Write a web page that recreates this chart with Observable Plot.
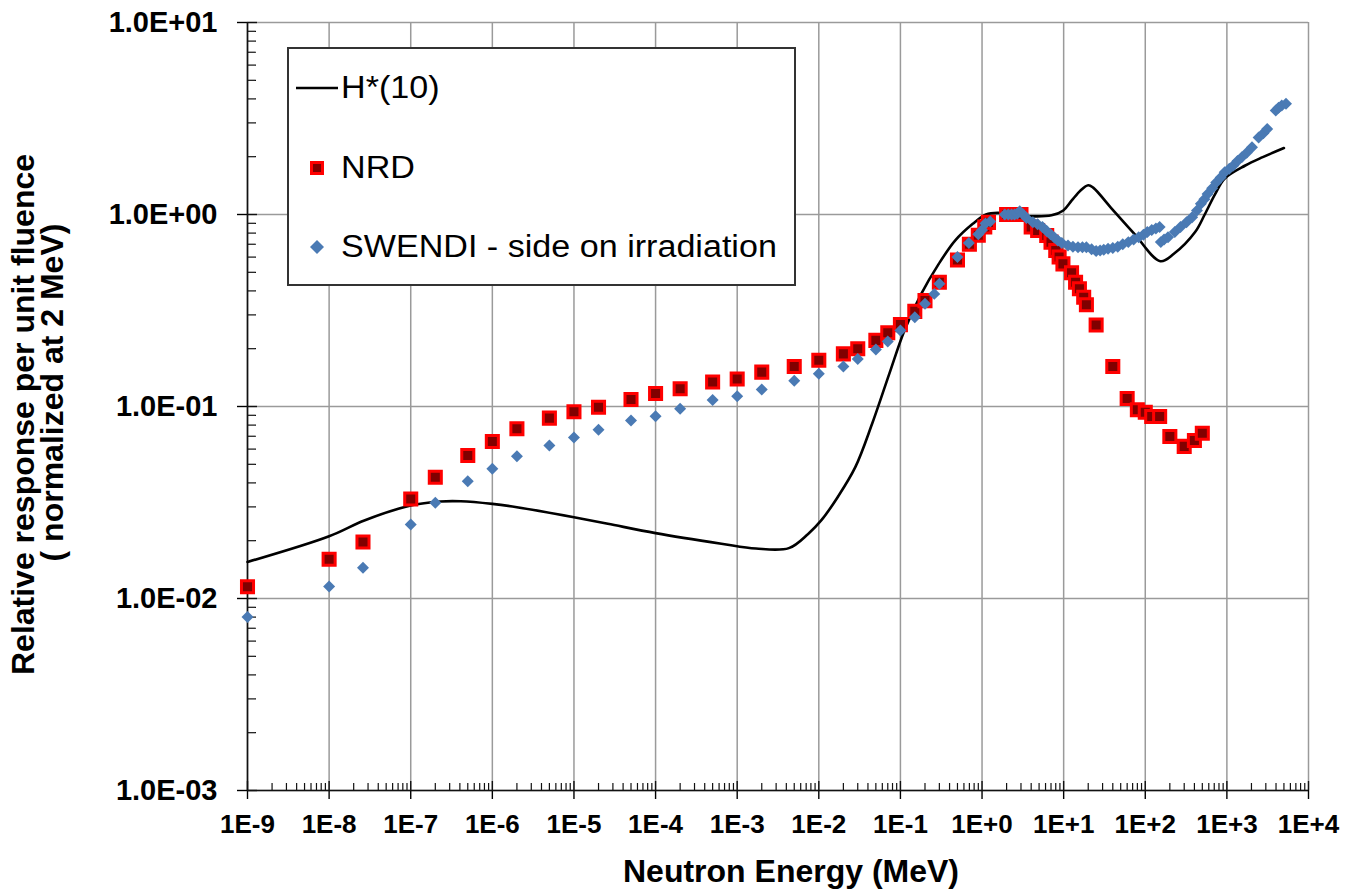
<!DOCTYPE html>
<html>
<head>
<meta charset="utf-8">
<script src="https://cdn.jsdelivr.net/npm/d3@7"></script>
<script src="https://cdn.jsdelivr.net/npm/@observablehq/plot@0.6"></script>
<style>
  html, body { margin: 0; padding: 0; background: white; }
  #wrap { position: relative; width: 1345px; height: 894px; font-family: 'Liberation Sans', Arial, sans-serif; }
  #legend { position: absolute; left: 287px; top: 47px; width: 509px; height: 239px; box-sizing: border-box;
            border: 2px solid #333; background: white; }
  #legend .lbl { position: absolute; left: 52px; font-size: 31px; line-height: 31px; white-space: nowrap;
                 transform: scaleX(1.1); transform-origin: 0 50%; color: #000; }
  #legend svg { position: absolute; left: 0; top: 0; }
</style>
</head>
<body>
<div id="wrap">
  <div id="chart"></div>
  <div id="legend"></div>
</div>
<script>
// ---- Data ----
// H*(10) curve
const hEnergy = [1e-9, 1e-8, 2.7e-8, 1e-7, 2.3e-7, 4.1e-7, 1e-6, 2e-6, 1e-5, 2.6e-5, 1e-4, 6.4e-4, 1.7e-3, 4.3e-3,
  7.4e-3, 1.07e-2, 1.7e-2, 2.8e-2, 4.5e-2, 7.3e-2, 0.112, 0.18, 0.295, 0.47, 0.77, 1.12, 1.56, 3.6, 7.1, 9.9, 12.5, 16, 20, 23,
  39, 74, 153, 224, 408, 535, 720, 940, 1680, 2750, 5000];
const hValue = [0.0155, 0.0211, 0.0255, 0.0305, 0.032, 0.0321, 0.0311, 0.0299, 0.0265, 0.0245, 0.0219, 0.0193, 0.0182, 0.0183,
  0.0217, 0.0255, 0.0337, 0.0483, 0.0813, 0.148, 0.249, 0.386, 0.553, 0.733, 0.894, 1.0, 1.02, 0.98, 0.99, 1.05, 1.18, 1.33, 1.42, 1.38,
  1.07, 0.79, 0.571, 0.624, 0.81, 1.0, 1.28, 1.54, 1.8, 1.99, 2.22];

// NRD
const nrdEnergy = [1e-9, 1e-8, 2.6e-8, 1e-7, 2e-7, 5e-7, 1e-6, 2e-6, 5e-6, 1e-5, 2e-5, 5e-5, 1e-4, 2e-4, 5e-4, 1e-3, 2e-3, 5e-3,
  1e-2, 2e-2, 3e-2, 5e-2, 7e-2, 0.1, 0.15, 0.2, 0.3, 0.5, 0.7, 0.9, 1.08, 1.2, 2, 2.5, 3, 4, 4.8, 6.2, 7, 8, 8.8, 9.8, 12.5, 14,
  15.6, 17.6, 19, 25, 40, 60, 80, 100, 120, 150, 200, 300, 400, 500];
const nrdValue = [0.0115, 0.016, 0.0197, 0.033, 0.0428, 0.0556, 0.0657, 0.0766, 0.087, 0.094, 0.099, 0.1087, 0.117, 0.1236, 0.134,
  0.139, 0.151, 0.1615, 0.174, 0.188, 0.2, 0.221, 0.242, 0.267, 0.313, 0.356, 0.444, 0.58, 0.70, 0.78, 0.86, 0.91, 1.0, 1.0, 1.0,
  0.86, 0.826, 0.778, 0.718, 0.65, 0.6, 0.553, 0.497, 0.444, 0.41, 0.371, 0.339, 0.266, 0.1615, 0.110, 0.0962, 0.0934, 0.0887,
  0.0887, 0.0698, 0.062, 0.0665, 0.0726];

// SWENDI - side on irradiation
const swEnergy = [1e-9, 1e-8, 2.6e-8, 1e-7, 2e-7, 5e-7, 1e-6, 2e-6, 5e-6, 1e-5, 2e-5, 5e-5, 1e-4, 2e-4, 5e-4, 1e-3, 2e-3, 5e-3,
  1e-2, 2e-2, 3e-2, 5e-2, 7e-2, 0.1, 0.15, 0.2, 0.26, 0.3, 0.5, 0.69, 0.9, 1.0, 1.1, 1.26, 1.9, 2.1, 2.3, 2.5, 2.7, 2.9, 3.2, 3.5,
  4.2, 4.8, 5.5, 6.2, 6.9, 7.7, 8.5, 9.5, 11.3, 13, 15, 17, 19, 22, 25, 28, 31, 35, 40, 46, 53, 62, 72, 83, 95, 106, 120, 135,
  150, 155, 170, 190, 230, 270, 320, 375, 430, 480, 530, 580, 660, 740, 840, 940, 1070, 1200, 1350, 1530, 1750, 2030, 2450,
  2800, 3120, 3970, 4300, 4700, 5300];
const swValue = [0.008, 0.01155, 0.01445, 0.0243, 0.0315, 0.0408, 0.0474, 0.0551, 0.0627, 0.069, 0.0757, 0.0845, 0.089, 0.0973,
  0.108, 0.113, 0.1227, 0.136, 0.148, 0.1615, 0.177, 0.198, 0.218, 0.249, 0.292, 0.343, 0.386, 0.436, 0.60, 0.71, 0.79, 0.83,
  0.897, 0.92, 1.0, 1.0, 1.0, 1.0, 1.01, 1.04, 1.0, 0.96, 0.91, 0.89, 0.86, 0.82, 0.79, 0.76, 0.733, 0.71, 0.69, 0.68, 0.676,
  0.676, 0.676, 0.66, 0.645, 0.65, 0.655, 0.663, 0.67, 0.68, 0.70, 0.718, 0.74, 0.762, 0.785, 0.81, 0.83, 0.845, 0.86, 0.718,
  0.74, 0.762, 0.81, 0.86, 0.91, 0.968, 1.05, 1.137, 1.2, 1.28, 1.37, 1.47, 1.56, 1.66, 1.73, 1.8, 1.9, 1.99, 2.1, 2.24, 2.52,
  2.65, 2.79, 3.48, 3.6, 3.7, 3.77];

// Axis ticks and labels
const xTickValues = [1e-9, 1e-8, 1e-7, 1e-6, 1e-5, 1e-4, 1e-3, 1e-2, 1e-1, 1e0, 1e1, 1e2, 1e3, 1e4];
const xTickLabels = ["1E-9", "1E-8", "1E-7", "1E-6", "1E-5", "1E-4", "1E-3", "1E-2", "1E-1", "1E+0", "1E+1", "1E+2", "1E+3", "1E+4"];
const yTickValues = [1e-3, 1e-2, 1e-1, 1e0, 1e1];
const yTickLabels = ["1.0E-03", "1.0E-02", "1.0E-01", "1.0E+00", "1.0E+01"];

const seriesNames = ["H*(10)", "NRD", "SWENDI - side on irradiation"];
const xTitle = "Neutron Energy (MeV)";
const yTitle1 = "Relative response per unit fluence";
const yTitle2 = "( normalized at 2 MeV)";

// ---- Build tables ----
const hData = hEnergy.map((e, i) => ({e, v: hValue[i]}));
const nrdData = nrdEnergy.map((e, i) => ({e, v: nrdValue[i]}));
const swData = swEnergy.map((e, i) => ({e, v: swValue[i]}));

const xMinor = [];
for (let i = 0; i < xTickValues.length - 1; i++) for (let m = 2; m <= 9; m++) xMinor.push(xTickValues[i] * m);
const yMinor = [];
for (let i = 0; i < yTickValues.length - 1; i++) for (let m = 2; m <= 9; m++) yMinor.push(yTickValues[i] * m);

const W = 1345, H = 894, mL = 247, mR = 37, mT = 22, mB = 104;
const plotW = W - mL - mR, plotH = H - mT - mB;
const font = "'Liberation Sans', Arial, sans-serif";

const chart = Plot.plot({
  width: W, height: H,
  marginLeft: mL, marginRight: mR, marginTop: mT, marginBottom: mB,
  style: {fontFamily: font, background: "white", color: "black", overflow: "visible"},
  x: {type: "log", domain: [1e-9, 1e4]},
  y: {type: "log", domain: [1e-3, 10]},
  marks: [
    Plot.gridX(xTickValues, {stroke: "#9a9a9a", strokeOpacity: 1, strokeWidth: 1.5}),
    Plot.gridY(yTickValues, {stroke: "#9a9a9a", strokeOpacity: 1, strokeWidth: 1.5}),
    Plot.tickX(xMinor, {x: d => d, insetTop: plotH - 7, stroke: "#111", strokeWidth: 1.2}),
    Plot.tickY(yMinor, {y: d => d, insetRight: plotW - 9, stroke: "#111", strokeWidth: 1.2}),
    Plot.tickX(xTickValues, {x: d => d, insetTop: plotH - 9, stroke: "#111", strokeWidth: 1.4}),
    Plot.tickY(yTickValues, {y: d => d, insetRight: plotW - 10, stroke: "#111", strokeWidth: 1.4}),
    Plot.axisX(xTickValues, {tickSize: 9, tickPadding: 15, strokeWidth: 1.4,
      tickFormat: d => xTickLabels[xTickValues.indexOf(d)], fontSize: 26, fontWeight: "bold", label: null}),
    Plot.axisY(yTickValues, {tickSize: 10, tickPadding: 20, strokeWidth: 1.4,
      tickFormat: d => yTickLabels[yTickValues.indexOf(d)], fontSize: 29, fontWeight: "bold", label: null}),
    Plot.ruleX([1e-9], {stroke: "#111", strokeWidth: 1.6}),
    Plot.ruleY([1e-3], {stroke: "#111", strokeWidth: 1.6}),
    Plot.line(hData, {x: "e", y: "v", curve: "catmull-rom", stroke: "black", strokeWidth: 2.6}),
    Plot.dot(nrdData, {x: "e", y: "v", symbol: "square", r: 6.8, fill: "#800000", stroke: "#ff0000", strokeWidth: 3}),
    Plot.dot(swData, {x: "e", y: "v", symbol: "diamond2", r: 5.4, fill: "#4a7ab4"}),
    Plot.text([xTitle], {frameAnchor: "bottom", textAnchor: "middle", dx: 13, dy: 81, lineAnchor: "middle", fontSize: 32, fontWeight: "bold"}),
    Plot.text([yTitle1], {frameAnchor: "left", textAnchor: "middle", rotate: -90, dx: -224, dy: 8, lineAnchor: "middle", fontSize: 32, fontWeight: "bold"}),
    Plot.text([yTitle2], {frameAnchor: "left", textAnchor: "middle", rotate: -90, dx: -195, dy: -14, lineAnchor: "middle", fontSize: 32, fontWeight: "bold"})
  ]
});
document.getElementById("chart").appendChild(chart);

// ---- Legend (inside the plot area, top-left) ----
const legend = document.getElementById("legend");
const rows = [39, 119, 198]; // vertical centers inside the box
const ls = d3.select(legend).append("svg").attr("width", 505).attr("height", 235);
ls.append("line").attr("x1", 7).attr("x2", 49).attr("y1", rows[0]).attr("y2", rows[0]).attr("stroke", "black").attr("stroke-width", 2.6);
ls.append("rect").attr("x", 22.5).attr("y", rows[1] - 5.5).attr("width", 11).attr("height", 11)
  .attr("fill", "#800000").attr("stroke", "#ff0000").attr("stroke-width", 3);
ls.append("path").attr("d", `M28,${rows[2] - 7}L35,${rows[2]}L28,${rows[2] + 7}L21,${rows[2]}Z`).attr("fill", "#4a7ab4");
seriesNames.forEach((name, i) => {
  const s = document.createElement("span");
  s.className = "lbl";
  s.textContent = name;
  s.style.top = (rows[i] - 16) + "px";
  legend.appendChild(s);
});
</script>
</body>
</html>
